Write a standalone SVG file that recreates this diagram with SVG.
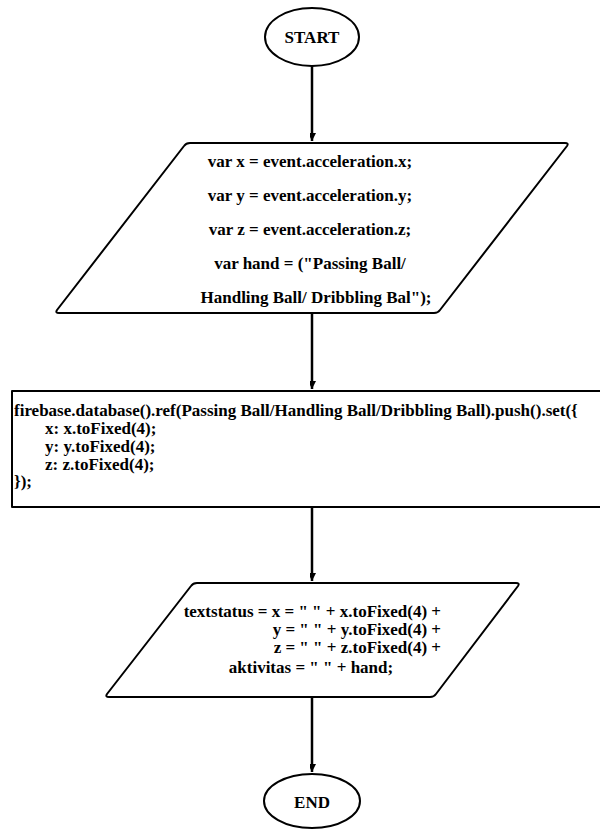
<svg xmlns="http://www.w3.org/2000/svg" width="600" height="830" viewBox="0 0 600 830">
<style>
.shape{fill:#fff;stroke:#000;stroke-width:2;stroke-linejoin:round}
.t{font-family:"Liberation Serif","Times New Roman",serif;font-weight:bold;font-size:17px;fill:#000}
.c{text-anchor:middle}
.e{text-anchor:end}
.conn{stroke:#000;stroke-width:2.5;fill:none}
</style>
<defs>
<marker id="arr" markerUnits="userSpaceOnUse" markerWidth="16" markerHeight="16" viewBox="-8 -14 16 16" refX="0" refY="0" orient="auto-start-reverse">
<path d="M0,0 L-7,-14 L0,-11 L7,-14 Z" fill="#000" transform="rotate(-90)"/>
</marker>
</defs>
<rect width="600" height="830" fill="#fff"/>
<g id="connectors">
<line class="conn" x1="312" y1="66" x2="312" y2="141" marker-end="url(#arr)"/>
<line class="conn" x1="312" y1="313" x2="312" y2="389" marker-end="url(#arr)"/>
<line class="conn" x1="312" y1="507" x2="312" y2="581" marker-end="url(#arr)"/>
<line class="conn" x1="312" y1="697" x2="312" y2="772" marker-end="url(#arr)"/>
</g>
<g id="start">
<ellipse class="shape" cx="312" cy="37" rx="47" ry="29"/>
<text class="t c" x="312" y="43" font-size="18">START</text>
</g>
<g id="input1">
<path class="shape" d="M190,143 L565,143 Q569,143 567,146 L440,310 Q438,313 434,313 L59,313 Q55,313 57,310 L184,146 Q186,143 190,143 Z"/>
<text class="t c" x="310" y="167">var x = event.acceleration.x;</text>
<text class="t c" x="310" y="201">var y = event.acceleration.y;</text>
<text class="t c" x="310" y="235">var z = event.acceleration.z;</text>
<text class="t c" x="310" y="269">var hand = ("Passing Ball/</text>
<text class="t c" x="316" y="303">Handling Ball/ Dribbling Bal");</text>
</g>
<g id="process">
<rect class="shape" x="12" y="391" width="600" height="116"/>
<text class="t" x="14" y="416">firebase.database().ref(Passing Ball/Handling Ball/Dribbling Ball).push().set({</text>
<text class="t" x="45" y="434">x: x.toFixed(4);</text>
<text class="t" x="45" y="452">y: y.toFixed(4);</text>
<text class="t" x="45" y="470">z: z.toFixed(4);</text>
<text class="t" x="14" y="487">});</text>
</g>
<g id="output">
<path class="shape" d="M197,583 L516,583 Q520,583 518,586 L436,694 Q434,697 430,697 L109,697 Q105,697 107,694 L191,586 Q193,583 197,583 Z"/>
<text class="t e" x="441" y="617">textstatus = x = " " + x.toFixed(4) +</text>
<text class="t e" x="441" y="635">y = " " + y.toFixed(4) +</text>
<text class="t e" x="441" y="653">z = " " + z.toFixed(4) +</text>
<text class="t c" x="311" y="673">aktivitas = " " + hand;</text>
</g>
<g id="end">
<ellipse class="shape" cx="312" cy="801" rx="48" ry="27"/>
<text class="t c" x="312" y="808" font-size="18">END</text>
</g>
</svg>
